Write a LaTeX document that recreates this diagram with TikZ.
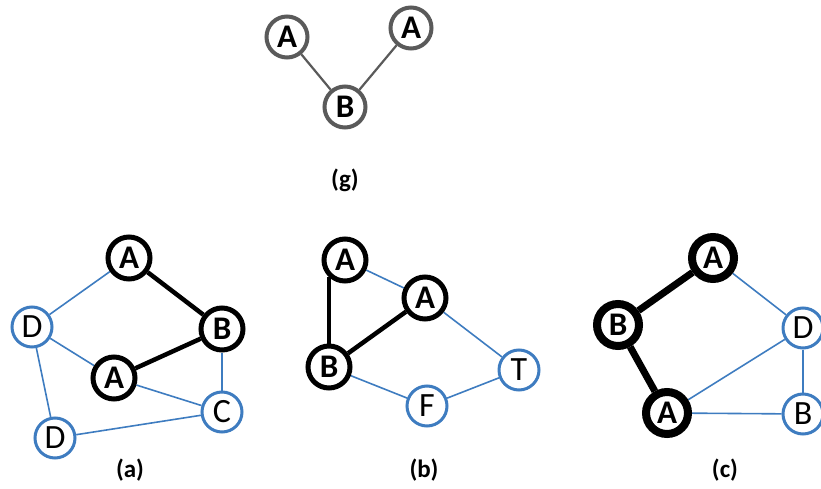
\documentclass[tikz,border=0pt]{standalone}
\usepackage{fontspec}
\setmainfont{Carlito}
\usetikzlibrary{backgrounds}
\definecolor{eblue}{HTML}{3E7CC0}
\definecolor{ggray}{HTML}{5A5A5A}
\tikzset{
  vb/.style={circle,draw=black,line width=5pt,fill=white,minimum size=42pt,inner sep=0pt,font=\fontsize{33}{33}\selectfont\bfseries},
  vbb/.style={vb,line width=8pt,minimum size=42pt},
  vl/.style={circle,draw=eblue,line width=3pt,fill=white,minimum size=40pt,inner sep=0pt,font=\fontsize{34}{34}\selectfont},
  vg/.style={circle,draw=ggray,line width=4pt,fill=white,minimum size=41pt,inner sep=0pt,font=\fontsize{33}{33}\selectfont\bfseries},
  eb/.style={draw=eblue,line width=1.6pt},
  ek/.style={draw=black,line width=4.5pt},
  ekk/.style={draw=black,line width=7pt},
  eg/.style={draw=ggray,line width=2.2pt},
  lbl/.style={font=\fontsize{25}{25}\selectfont\bfseries}
}
\begin{document}
\begin{tikzpicture}[x=1pt,y=-1pt]
\useasboundingbox (0,0) rectangle (821,489);
\clip (0,0) rectangle (821,489);
% (g)
\node[vg] (gA1) at (287,37) {A};
\node[vg] (gA2) at (411,28) {A};
\node[vg] (gB) at (345,107) {B};
\node[lbl] (lg) at (345,180) {(g)};
% (a)
\node[vb] (aA1) at (129,258) {A};
\node[vl] (aD1) at (32,327) {D};
\node[vb] (aB) at (222,329) {B};
\node[vb] (aA2) at (114,378) {A};
\node[vl] (aC) at (222,412) {C};
\node[vl] (aD2) at (55,438) {D};
\node[lbl] (la) at (130,470) {(a)};
% (b)
\node[vb] (bA1) at (345,260) {A};
\node[vb] (bA2) at (425,298) {A};
\node[vb] (bB) at (329,367) {B};
\node[vl] (bT) at (519,370) {T};
\node[vl] (bF) at (427,406) {F};
\node[lbl] (lb) at (424,470) {(b)};
% (c)
\node[vbb] (cA1) at (713,258) {A};
\node[vbb] (cB) at (618,325) {B};
\node[vl] (cD) at (803,328) {D};
\node[vbb] (cA2) at (667,413) {A};
\node[vl] (cB2) at (803,414) {B};
\node[lbl] (lc) at (725,470) {(c)};
\begin{pgfonlayer}{background}
\draw[eg] (gA1) -- (gB);
\draw[eg] (gA2) -- (gB);
\draw[eb] (aA1) -- (aD1);
\draw[eb] (aD1) -- (aA2);
\draw[eb] (aB) -- (aC);
\draw[eb] (aA2) -- (aC);
\draw[eb] (aD1) -- (aD2);
\draw[eb] (aD2) -- (aC);
\draw[ek] (aA1) -- (aB);
\draw[ek] (aB) -- (aA2);
\draw[eb] (bA1) -- (bA2);
\draw[eb] (bA2) -- (bT);
\draw[eb] (bB) -- (bF);
\draw[eb] (bF) -- (bT);
\draw[ek] (bB.center) -- (bB.center |- bA1.-135);
\draw[ek] (bA2) -- (bB);
\draw[eb] (cA1) -- (cD);
\draw[eb] (cD) -- (cA2);
\draw[eb] (cD) -- (cB2);
\draw[eb] (cA2) -- (cB2);
\draw[ekk] (cA1) -- (cB);
\draw[ekk] (cB) -- (cA2);
\end{pgfonlayer}
\end{tikzpicture}
\end{document}
